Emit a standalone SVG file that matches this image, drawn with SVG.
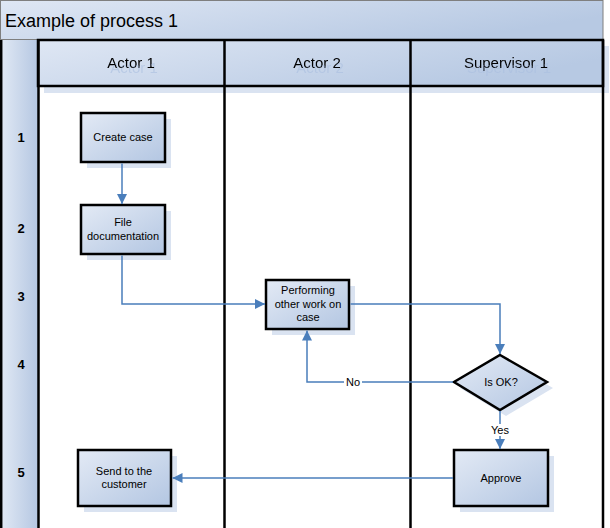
<svg xmlns="http://www.w3.org/2000/svg" width="610" height="528" viewBox="0 0 610 528">
<defs>
<linearGradient id="g" x1="0" y1="0" x2="1" y2="1">
<stop offset="0" stop-color="#e3eaf5"/>
<stop offset="1" stop-color="#b3c6e2"/>
</linearGradient>
<linearGradient id="gh" x1="0" y1="0" x2="1" y2="0.4">
<stop offset="0" stop-color="#dfe7f4"/>
<stop offset="1" stop-color="#b7c9e3"/>
</linearGradient>
<linearGradient id="gv" x1="0" y1="0" x2="1" y2="0">
<stop offset="0" stop-color="#e0e8f4"/>
<stop offset="1" stop-color="#b5c7e2"/>
</linearGradient>
<filter id="ghost" x="-10%" y="-50%" width="130%" height="200%">
<feOffset in="SourceAlpha" dx="3" dy="5" result="o"/>
<feFlood flood-color="#a9bedf" flood-opacity="0.6"/>
<feComposite operator="in" in2="o" result="s"/>
<feMerge><feMergeNode in="s"/><feMergeNode in="SourceGraphic"/></feMerge>
</filter>
<marker id="arr" viewBox="0 0 10 10" refX="10" refY="5" markerWidth="10" markerHeight="10" markerUnits="userSpaceOnUse" orient="auto">
<path d="M0,0 L10,5 L0,10 z" fill="#4a7ebb"/>
</marker>
</defs>
<style>
.sh{fill:#dae3f1}
.box{fill:url(#g);stroke:#000;stroke-width:2.5}
.lane{stroke:#000;stroke-width:2.5}
.t{font-family:"Liberation Sans",Arial,sans-serif;font-size:11px;fill:#000;text-anchor:middle}
.h{font-family:"Liberation Sans",Arial,sans-serif;font-size:15px;fill:#000;text-anchor:middle}
.n{font-family:"Liberation Sans",Arial,sans-serif;font-size:13px;font-weight:bold;fill:#000;text-anchor:middle}
.c{fill:none;stroke:#4a7ebb;stroke-width:1.5}
</style>
<rect width="610" height="528" fill="#fff"/>
<g id="pool">
<rect x="0.5" y="0.5" width="602.5" height="39" fill="url(#gh)" stroke="#7f7f7f" stroke-width="1"/>
<text x="5" y="27" font-family="Liberation Sans, Arial, sans-serif" font-size="18" fill="#000">Example of process 1</text>
</g>
<g id="headers">
<rect x="44" y="46" width="565" height="47" class="sh"/>
<rect x="1.5" y="40" width="36.5" height="488" fill="url(#gv)"/>
<line x1="1.2" y1="40" x2="1.2" y2="528" class="lane"/>
<rect x="38" y="40" width="565" height="46" fill="url(#gh)"/>
<rect x="38" y="40" width="565" height="46" fill="none" class="lane"/>
<g filter="url(#ghost)">
<text x="131" y="68" class="h">Actor 1</text>
<text x="317" y="68" class="h">Actor 2</text>
<text x="506" y="68" class="h">Supervisor 1</text>
</g>
</g>
<g id="lanes">
<line x1="38.5" y1="40" x2="38.5" y2="528" class="lane"/>
<line x1="224.5" y1="40" x2="224.5" y2="528" class="lane"/>
<line x1="410.5" y1="40" x2="410.5" y2="528" class="lane"/>
<line x1="603" y1="40" x2="603" y2="528" class="lane"/>
</g>
<g id="rows">
<text x="21" y="142" class="n">1</text>
<text x="21" y="233" class="n">2</text>
<text x="21" y="301" class="n">3</text>
<text x="21" y="369" class="n">4</text>
<text x="21" y="477" class="n">5</text>
</g>
<g id="create-case">
<rect x="87" y="119" width="84" height="49" class="sh"/>
<rect x="81" y="113" width="84" height="49" class="box"/>
<text x="123" y="141" class="t">Create case</text>
</g>
<g id="file-documentation">
<rect x="87" y="211" width="84" height="49" class="sh"/>
<rect x="81" y="205" width="84" height="49" class="box"/>
<text x="123" y="226" class="t">File</text>
<text x="123" y="240" class="t">documentation</text>
</g>
<g id="performing">
<rect x="272" y="286" width="83" height="49" class="sh"/>
<rect x="266" y="280" width="83" height="49" class="box"/>
<text x="308" y="294" class="t">Performing</text>
<text x="308" y="308" class="t">other work on</text>
<text x="308" y="321" class="t">case</text>
</g>
<g id="is-ok">
<polygon points="506,361 553,388 506,416 460,388" class="sh"/>
<polygon points="500,355 547,382 500,410 454,382" class="box"/>
<text x="501" y="386" class="t">Is OK?</text>
</g>
<g id="approve">
<rect x="460" y="456" width="94" height="56" class="sh"/>
<rect x="454" y="450" width="94" height="56" class="box"/>
<text x="501" y="482" class="t">Approve</text>
</g>
<g id="send-to-customer">
<rect x="84" y="456" width="93" height="56" class="sh"/>
<rect x="78" y="450" width="93" height="56" class="box"/>
<text x="124" y="475" class="t">Send to the</text>
<text x="124" y="488" class="t">customer</text>
</g>
<g id="connectors">
<path class="c" d="M122,163.5 V204" marker-end="url(#arr)"/>
<path class="c" d="M122,255.5 V304 H265" marker-end="url(#arr)"/>
<path class="c" d="M350.5,304 H500 V354" marker-end="url(#arr)"/>
<path class="c" d="M453,382 H307 V330.5" marker-end="url(#arr)"/>
<path class="c" d="M500,411 V449" marker-end="url(#arr)"/>
<path class="c" d="M453,478 H172.5" marker-end="url(#arr)"/>
<rect x="344" y="376" width="18" height="12" fill="#fff"/>
<text x="353" y="386" class="t">No</text>
<rect x="488" y="424" width="24" height="12" fill="#fff"/>
<text x="500" y="434" class="t">Yes</text>
</g>
</svg>
